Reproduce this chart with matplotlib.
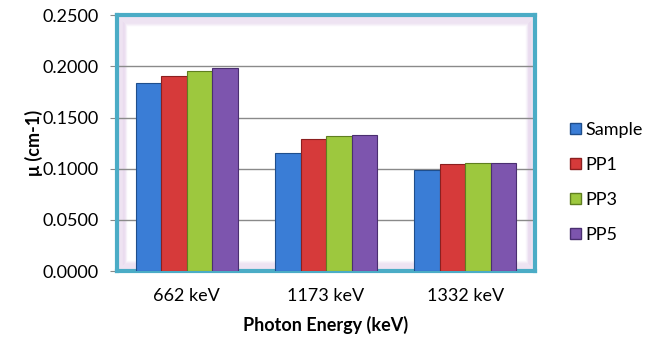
import numpy as np
import matplotlib
matplotlib.use("Agg")
import matplotlib.pyplot as plt
from matplotlib.patches import Rectangle, Patch

categories = ["662 keV", "1173 keV", "1332 keV"]
series_names = ["Sample", "PP1", "PP3", "PP5"]
sample = [0.184, 0.115, 0.099]
pp1 = [0.191, 0.129, 0.105]
pp3 = [0.195, 0.132, 0.106]
pp5 = [0.198, 0.133, 0.106]
yticks = [0.0, 0.05, 0.10, 0.15, 0.20, 0.25]

values = [sample, pp1, pp3, pp5]
colors = ["#3A7DD6", "#D63A3A", "#9DC83E", "#7D55AE"]
edges = ["#1F4E8C", "#8C1F1F", "#5F7F1F", "#4A2F70"]

plt.rcParams['font.family'] = ['Lato', 'DejaVu Sans']
FS = 13

fig = plt.figure(figsize=(6.58, 3.44), dpi=100)
ax = fig.add_axes([0.178, 0.212, 0.635, 0.744])

# glow inside plot area
for i in range(10):
    inset = i * 0.004
    ax.add_patch(Rectangle((inset * 0.55, inset), 1 - 2 * inset * 0.55, 1 - 2 * inset,
                           transform=ax.transAxes, fill=False, edgecolor="#B07CC6",
                           linewidth=2.5, alpha=0.06, zorder=0.5))

x = np.arange(len(categories))
w = 0.183
for i, (vals, c, e) in enumerate(zip(values, colors, edges)):
    pos = x + (i - 1.5) * w
    ax.bar(pos, vals, width=w, color=c, edgecolor=e, linewidth=0.8,
           label=series_names[i], zorder=3)

ax.set_ylim(0, 0.25)
ax.set_xlim(-0.5, 2.5)
ax.set_yticks(yticks)
ax.set_yticklabels([f"{t:.4f}" for t in yticks], fontsize=FS)
ax.set_xticks(x)
ax.set_xticklabels(categories, fontsize=FS)
ax.yaxis.grid(True, color="#8A8A8A", linewidth=1.0, zorder=1)
ax.set_axisbelow(True)
ax.tick_params(axis='x', length=0, pad=12)
ax.tick_params(axis='y', length=5, color="#8A8A8A", pad=8)
for s in ax.spines.values():
    s.set_color("#4BACC6")
    s.set_linewidth(3)

ax.set_ylabel("μ (cm-1)", fontsize=FS, fontweight='bold', labelpad=0)
ax.set_xlabel("Photon Energy (keV)", fontsize=FS, fontweight='bold', labelpad=9)

handles = [Patch(facecolor=c, edgecolor=e, label=n) for c, e, n in zip(colors, edges, series_names)]
leg = fig.legend(handles=handles, loc='center left', bbox_to_anchor=(0.842, 0.47),
                 frameon=False, fontsize=FS, handlelength=0.6, handleheight=0.6,
                 handletextpad=0.25, labelspacing=1.05)

fig.savefig("out.png", dpi=100)
